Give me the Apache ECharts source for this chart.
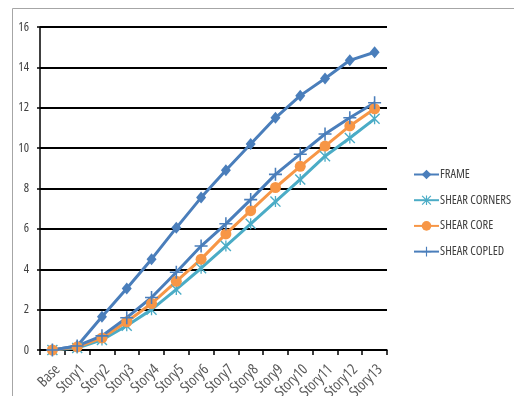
<!DOCTYPE html>
<html>
<head>
<meta charset="utf-8">
<script src="https://cdn.jsdelivr.net/npm/echarts@6/dist/echarts.min.js"></script>
<style>
  html, body { margin: 0; padding: 0; background: #fff; }
  #chart { width: 514px; height: 396px; }
</style>
</head>
<body>
<div id="chart"></div>
<script>
// Storey labels along the x axis
const categories = ['Base', 'Story1', 'Story2', 'Story3', 'Story4', 'Story5', 'Story6',
  'Story7', 'Story8', 'Story9', 'Story10', 'Story11', 'Story12', 'Story13'];

// Values per storey for each structural system
const frame        = [0, 0.2, 1.65, 3.05, 4.5, 6.05, 7.55, 8.9, 10.2, 11.5, 12.6, 13.45, 14.35, 14.75];
const shearCorners = [0, 0.1, 0.5, 1.2, 2.0, 3.0, 4.05, 5.15, 6.25, 7.35, 8.45, 9.6, 10.5, 11.45];
const shearCore    = [0, 0.15, 0.6, 1.4, 2.3, 3.4, 4.5, 5.75, 6.9, 8.05, 9.1, 10.1, 11.1, 11.95];
const shearCopled  = [0, 0.2, 0.7, 1.6, 2.6, 3.85, 5.15, 6.25, 7.45, 8.7, 9.7, 10.7, 11.5, 12.25];

const seriesNames = ['FRAME', 'SHEAR CORNERS', 'SHEAR CORE', 'SHEAR COPLED'];
const yTicks = { min: 0, max: 16, interval: 2 };

// Condensed face of Open Sans, selected through the font-stretch keyword
const FONT = '"Open Sans", "Roboto Condensed", sans-serif';
const STRETCH = 'condensed';

// Asterisk and plus markers as filled outline paths
const asterisk = 'path://M4.4 0 L5.6 0 L5.6 10 L4.4 10 Z M0 0.9 L0.9 0 L10 9.1 L9.1 10 Z M9.1 0 L10 0.9 L0.9 10 L0 9.1 Z';
const plus = 'path://M4.4 0 L5.6 0 L5.6 4.4 L10 4.4 L10 5.6 L5.6 5.6 L5.6 10 L4.4 10 L4.4 5.6 L0 5.6 L0 4.4 L4.4 4.4 Z';

function lineSeries(name, data, color, symbol, size) {
  return {
    name: name,
    type: 'line',
    data: data,
    symbol: symbol,
    symbolSize: size,
    showSymbol: true,
    lineStyle: { color: color, width: 3 },
    itemStyle: { color: color, borderWidth: 0 },
    emphasis: { disabled: true },
    animation: false
  };
}

const chart = echarts.init(document.getElementById('chart'), null, { renderer: 'canvas' });
chart.setOption({
  backgroundColor: '#ffffff',
  animation: false,
  graphic: [
    {
      type: 'polyline',
      shape: { points: [[12.5, 400], [12.5, 8.5], [520, 8.5]] },
      style: { stroke: '#a6a6a6', lineWidth: 1, fill: null },
      silent: true
    }
  ],
  grid: { left: 40, top: 27, right: 127, bottom: 46, containLabel: false, outerBoundsMode: 'none' },
  legend: {
    orient: 'vertical',
    left: 408,
    top: 163,
    itemWidth: 25,
    itemHeight: 12,
    itemGap: 12.7,
    textStyle: {
      fontFamily: FONT, fontStyle: STRETCH, fontSize: 12.5, lineHeight: 12,
      color: '#404040', padding: [0, 0, 0, -4]
    },
    data: seriesNames
  },
  xAxis: {
    type: 'category',
    data: categories,
    boundaryGap: true,
    axisLine: { lineStyle: { color: '#000', width: 1.5 } },
    axisTick: { show: true, length: 5, lineStyle: { color: '#000', width: 1.5 } },
    axisLabel: {
      rotate: 45,
      interval: 0,
      margin: 12,
      verticalAlign: 'top',
      fontFamily: FONT,
      fontStyle: STRETCH,
      fontSize: 15,
      color: '#595959'
    },
    splitLine: { show: false }
  },
  yAxis: {
    type: 'value',
    min: yTicks.min,
    max: yTicks.max,
    interval: yTicks.interval,
    axisLine: { show: true, lineStyle: { color: '#000', width: 1.5 } },
    axisTick: { show: true, length: 3, lineStyle: { color: '#000', width: 1.5 } },
    axisLabel: { fontFamily: FONT, fontStyle: STRETCH, fontSize: 12.5, color: '#404040', margin: 11 },
    splitLine: { show: true, lineStyle: { color: '#000', width: 2 } }
  },
  series: [
    lineSeries(seriesNames[0], frame, '#4a7ebb', 'diamond', [10, 12]),
    lineSeries(seriesNames[1], shearCorners, '#4bacc6', asterisk, 11),
    lineSeries(seriesNames[2], shearCore, '#f79646', 'circle', 11),
    lineSeries(seriesNames[3], shearCopled, '#4a7ebb', plus, 13)
  ]
});
</script>
</body>
</html>
